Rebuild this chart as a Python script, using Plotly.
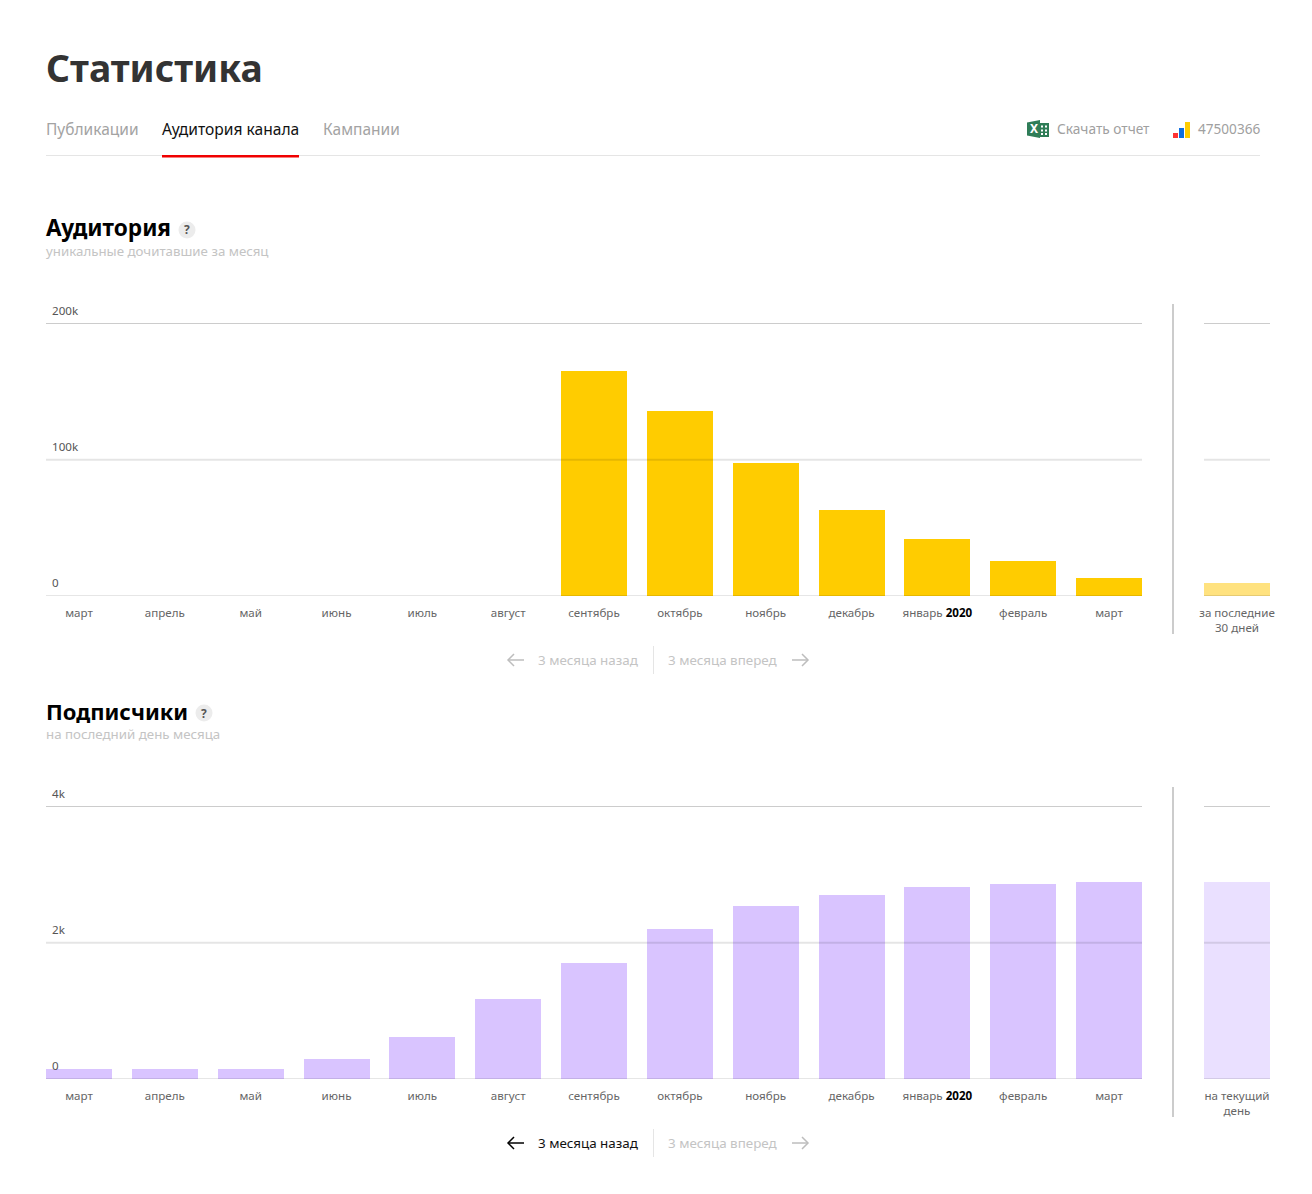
import plotly.graph_objects as go

W, H = 1312, 1194
FONT = "Noto Sans"

months = ["март", "апрель", "май", "июнь", "июль", "август", "сентябрь", "октябрь", "ноябрь", "декабрь",
          'январь <span style="color:#000"><b>2020</b></span>', "февраль", "март"]
audience = [0, 0, 0, 0, 0, 0, 165000, 136000, 97600, 63000, 42000, 25700, 13000]
audience_last = [9500]
subscribers = [146, 146, 146, 293, 615, 1172, 1700, 2198, 2535, 2696, 2813, 2857, 2886]
subscribers_last = [2886]
audience_ticks = [0, 100000, 200000]
audience_ticktext = ["0", "100k", "200k"]
subs_ticks = [0, 2000, 4000]
subs_ticktext = ["0", "2k", "4k"]
audience_right_label = ["за последние<br>30 дней"]
subs_right_label = ["на текущий<br>день"]

def px(x): return x / W
def py(y): return 1 - y / H

fig = go.Figure()
shapes, ann = [], []

def text(x, y, s, size, color, anchor="left", weight=None, font=FONT):
    f = dict(size=size, color=color, family=font)
    ann.append(dict(x=px(x), y=py(y), xref="paper", yref="paper", text=s, showarrow=False,
                    xanchor=anchor, yanchor="middle", font=f, borderpad=0, borderwidth=0))

def rect(x0, y0, x1, y1, color):
    shapes.append(dict(type="rect", xref="paper", yref="paper", x0=px(x0), x1=px(x1), y0=py(y0), y1=py(y1),
                       fillcolor=color, line=dict(width=0), layer="above"))

def line(pts, color, width=1.5):
    path = "M " + " L ".join(f"{px(a):.5f},{py(b):.5f}" for a, b in pts)
    shapes.append(dict(type="path", xref="paper", yref="paper", path=path,
                       line=dict(color=color, width=width), layer="above"))

def arrow(x0, x1, y, color, left=True):
    tip, tail = (x0, x1) if left else (x1, x0)
    d = 6 if left else -6
    line([(tail, y), (tip, y)], color)
    line([(tip + d, y - 6), (tip, y), (tip + d, y + 6)], color)

def chart(idx, top, base, v200, values, last, color, light, ticks, ticktext, rightlabel):
    xa, ya = f"x{idx*2+1 if idx else ''}", f"y{idx*2+1 if idx else ''}"
    xb, yb = f"x{idx*2+2}", f"y{idx*2+2}"
    upper = ticks[-1] * (base - top) / (base - v200)
    fig.add_bar(x=list(range(13)), y=values, width=66 / 85.833, marker=dict(color=color, line=dict(width=0)),
                xaxis=xa, yaxis=ya, showlegend=False)
    fig.add_bar(x=[0], y=last, width=1, marker=dict(color=light, line=dict(width=0)),
                xaxis=xb, yaxis=yb, showlegend=False)
    dom_y = [py(base), py(top)]
    xcommon = dict(showgrid=False, zeroline=False, showline=False, ticks="", ticklen=0,
                   tickfont=dict(family=FONT, size=11.6, color="#666666"), ticklabelstandoff=8, fixedrange=True,
                   ticklabeloverflow="allow")
    ycommon = dict(range=[0, upper], tickmode="array", tickvals=ticks, showgrid=False, zeroline=False,
                   showline=False, ticks="", domain=dom_y, fixedrange=True, ticklabeloverflow="allow")
    k = lambda s: ("xaxis" + s[1:], "yaxis" + s[1:])
    fig.update_layout({
        k(xa)[0]: dict(domain=[px(46), px(1142)], range=[-33 / 85.833, 12 + 33 / 85.833], tickmode="array",
                       tickvals=list(range(13)), ticktext=months, anchor=ya, **xcommon),
        k(ya)[1]: dict(ticktext=ticktext, ticklabelposition="inside", anchor=xa,
                       tickfont=dict(family=FONT, size=11.6, color="#555555"), ticklabelshift=-13, ticklabelstandoff=3, **ycommon),
        k(xb)[0]: dict(domain=[px(1204), px(1270)], range=[-0.5, 0.5], tickmode="array", tickvals=[0],
                       ticktext=rightlabel, anchor=yb, **xcommon),
        k(yb)[1]: dict(showticklabels=False, anchor=xb, **ycommon),
    })
    for xr, yr in ((xa, ya), (xb, yb)):
        for t, (alpha, w) in zip(ticks, ((0.2, 1), (0.1, 2), (0.2, 1))):
            shapes.append(dict(type="line", xref=f"{xr} domain", yref=yr, x0=0, x1=1, y0=t, y1=t,
                               line=dict(color=f"rgba(0,0,0,{alpha})", width=w), layer="above"))
    rect(1172, top, 1174, top + 330, "#cccccc")

chart(0, 304, 596, 323.5, audience, audience_last, "#ffcc00", "#ffe27f", audience_ticks, audience_ticktext, audience_right_label)
chart(1, 787, 1079, 806.5, subscribers, subscribers_last, "#d9c4ff", "#eae0ff", subs_ticks, subs_ticktext, subs_right_label)

# header
text(46, 67, "<b>Статистика</b>", 37.3, "#333333")
text(46, 129, "Публикации", 15.5, "#a3a3a3")
text(162, 129, "Аудитория канала", 15.6, "#111111")
text(323, 129, "Кампании", 15.5, "#a3a3a3")
rect(46, 155, 1260, 156, "#e5e5e5")
rect(162, 155, 299, 157.5, "#f00000")
text(1057, 129, "Скачать отчет", 13.7, "#a0a0a0")
text(1198, 129, "47500366", 13.6, "#a0a0a0")
# excel icon
rect(1036, 123, 1049, 137, "#2f7d57")
for yy in (125.5, 129.5, 133):
    rect(1041, yy, 1043, yy + 2, "#ffffff")
    rect(1045, yy, 1047, yy + 2, "#ffffff")
shapes.append(dict(type="path", xref="paper", yref="paper", layer="above", line=dict(width=0), fillcolor="#2f7d57",
                   path=f"M {px(1027)},{py(122.5)} L {px(1040)},{py(120)} L {px(1040)},{py(138)} L {px(1027)},{py(135.5)} Z"))
text(1033.5, 129, "<b>X</b>", 12, "#ffffff", "center")
# rating icon
rect(1173, 133, 1178, 138, "#ff3333")
rect(1179, 128, 1184, 138, "#0f6fe0")
rect(1185, 122, 1190, 138, "#ffcc00")

# section 1
text(46, 227.5, "<b>Аудитория</b>", 22.6, "#000000")
shapes.append(dict(type="circle", xref="paper", yref="paper", x0=px(178.5), x1=px(195.5), y0=py(238.5), y1=py(221.5),
                   fillcolor="#ececec", line=dict(width=0), layer="above"))
text(187, 230, "<b>?</b>", 12, "#555555", "center")
text(46, 251, "уникальные дочитавшие за месяц", 13.3, "#c4c4c4")
# section 2
text(46, 710.5, "<b>Подписчики</b>", 22, "#000000")
shapes.append(dict(type="circle", xref="paper", yref="paper", x0=px(195.5), x1=px(212.5), y0=py(721.5), y1=py(704.5),
                   fillcolor="#ececec", line=dict(width=0), layer="above"))
text(204, 713, "<b>?</b>", 12, "#555555", "center")
text(46, 734, "на последний день месяца", 13.3, "#c4c4c4")

# pagers
for y, back in ((660, "#bdbdbd"), (1143, "#000000")):
    arrow(508, 524, y, back, True)
    text(538, y, "3 месяца назад", 13.4, "#c4c4c4" if back != "#000000" else "#111111")
    rect(653, y - 14, 654, y + 14, "#e5e5e5")
    text(668, y, "3 месяца вперед", 13.4, "#c4c4c4")
    arrow(792, 808, y, "#bdbdbd", False)

fig.update_layout(width=W, height=H, autosize=False, margin=dict(l=0, r=0, t=0, b=0, pad=0, autoexpand=False),
                  paper_bgcolor="#ffffff", plot_bgcolor="rgba(0,0,0,0)", shapes=shapes, annotations=ann,
                  bargap=0, font=dict(family=FONT))
fig.write_html("out.html", config=dict(displayModeBar=False, responsive=False),
               post_script="document.body.style.margin='0';document.documentElement.style.overflow='hidden';")
